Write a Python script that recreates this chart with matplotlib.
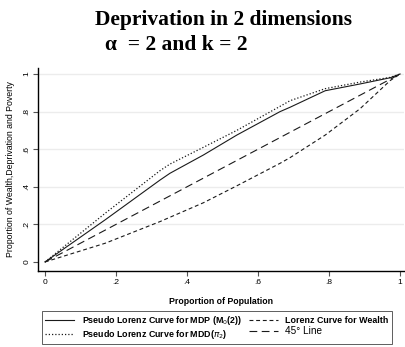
import matplotlib
matplotlib.use("Agg")
import matplotlib.pyplot as plt

# values
pop_mdp = [0, 0.17, 0.324, 0.352, 0.446, 0.54, 0.662, 0.69, 0.789, 0.887, 0.972, 1.0]
mdp = [0, 0.225, 0.436, 0.472, 0.569, 0.675, 0.80, 0.823, 0.911, 0.947, 0.98, 1.0]

pop_mdd = [0, 0.17, 0.324, 0.352, 0.446, 0.54, 0.662, 0.69, 0.789, 0.887, 0.972, 1.0]
mdd = [0, 0.26, 0.486, 0.521, 0.61, 0.70, 0.828, 0.858, 0.922, 0.957, 0.982, 1.0]

pop_wealth = [0, 0.17, 0.324, 0.446, 0.54, 0.662, 0.69, 0.789, 0.887, 0.972, 1.0]
wealth = [0, 0.10, 0.215, 0.315, 0.405, 0.525, 0.555, 0.675, 0.815, 0.965, 1.0]

pop_eq = [0, 1.0]
eq_line = [0, 1.0]

ticks = [0, 0.2, 0.4, 0.6, 0.8, 1.0]
tick_labels = ["0", ".2", ".4", ".6", ".8", "1"]

plt.rcParams['font.family'] = ['Liberation Sans', 'DejaVu Sans']

fig = plt.figure(figsize=(4.06, 3.47), dpi=100)
ax = fig.add_axes([38/406, 1-271/347, (404-38)/406, (271-68)/347])

lc = '#1a1a1a'
l1, = ax.plot(pop_mdp, mdp, color=lc, lw=0.8, ls='-')
l2, = ax.plot(pop_wealth, wealth, color=lc, lw=0.8, ls=(0, (3.5, 2.5)))
l3, = ax.plot(pop_mdd, mdd, color=lc, lw=0.9, ls=(0, (1, 1.6)))
l4, = ax.plot(pop_eq, eq_line, color=lc, lw=0.8, ls=(0, (7, 4)))

ax.set_xlim(-0.0197, 1.011)
ax.set_ylim(-0.048, 1.032)
ax.set_xticks(ticks)
ax.set_xticklabels(tick_labels)
ax.set_yticks(ticks)
ax.set_yticklabels(tick_labels, rotation=90, va='center')
ax.tick_params(labelsize=6, length=3.5, width=0.8, color='#555555', pad=2)

for y in ticks[1:]:
    ax.axhline(y, color='#ececec', lw=1.0, zorder=0)

for s in ['top', 'right']:
    ax.spines[s].set_visible(False)
for s in ['left', 'bottom']:
    ax.spines[s].set_linewidth(1.0)
    ax.spines[s].set_color('black')

ax.set_xlabel('Proportion of Population', fontsize=6.3, fontweight='bold', labelpad=8)
ax.set_ylabel('Proportion of Wealth,Deprivation and Poverty', fontsize=6.3, labelpad=6)

fig.text(224/406, 1-20/347, 'Deprivation in 2 dimensions', ha='center', va='center',
         fontsize=15.5, fontweight='bold', family='Liberation Serif')
fig.text(105/406, 1-45/347, '\u03b1  = 2 and k = 2', ha='left', va='center',
         fontsize=15.5, fontweight='bold', family='Liberation Serif')

# matplotlib fills legend columns first, so order is col1 then col2
leg = fig.legend([l1, l3, l2, l4],
                 ['Pseudo Lorenz Curve for MDP (M$_0$(2))', 'Pseudo Lorenz Curve for MDD($\\pi_2$)',
                  'Lorenz Curve for Wealth', '45\u00b0 Line'],
                 loc='upper left', bbox_to_anchor=(42/406, 1-311/347), ncol=2,
                 borderaxespad=0,
                 prop={'size': 6.4, 'weight': 'bold'}, handlelength=3.3,
                 handletextpad=0.8, columnspacing=0.8, labelspacing=0.08,
                 borderpad=0.35, fancybox=False, edgecolor='#444444', framealpha=1)
leg.get_frame().set_linewidth(0.6)
leg.get_texts()[3].set_fontweight('normal')
leg.get_texts()[3].set_fontsize(7.2)

fig.savefig('out.png', dpi=100)
